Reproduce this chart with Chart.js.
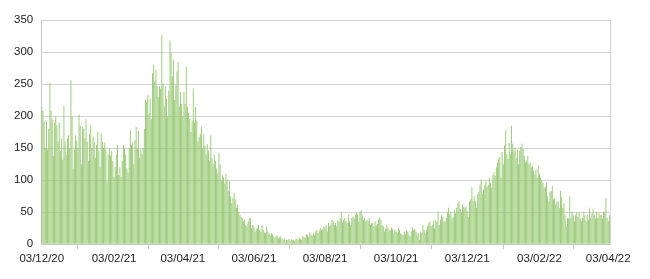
<!DOCTYPE html>
<html>
<head>
<meta charset="utf-8">
<script src="https://cdn.jsdelivr.net/npm/chart.js@4.4.1/dist/chart.umd.min.js"></script>
<style>
  html, body { margin: 0; padding: 0; background: #fff; }
  #wrap { width: 650px; height: 279px; }
</style>
</head>
<body>
<div id="wrap"><canvas id="casesChart"></canvas></div>
<script>
// daily values, one per day from 03/12/20
const decJan = [215,208,192,150,192,148,180,252,208,195, 138,190,200,186,160,190,145,165,132,216,
  160,140,165,170,150,256,200,118,148,170, 162,150,202,185,125,183,180,165,195,160,
  130,172,185,150,168,160,135,155,175,145, 120,173,160,150,158,148,98,140,150,138,
  145,130,105,120,140,155,108,120,105,130, 155,150,140,118,112,150,178,155,158,125, 162];
const springWave = [183,150,177,135,148,140,150,180,225,222, 233,205,227,195,267,280,254,272,246,230,
  246,243,326,251,215,246,227,200,240,318, 300,262,288,225,248,270,285,215,238,219,
  200,238,219,277,214,205,196,175,193,243, 190,214,193,160,167,172,183,150,172,154,
  140,156,146,130,170,135,125,140,130,118, 110,143,125,100,109,104,95,110,101,83, 99,75];
const summerLow = [64,72,80,70,57,62,51,46,43,41, 36,38,30,28,36,40,41,25,30,28,
  20,24,25,30,22,20,30,22,18,17, 28,20,17,14,17,15,12,10,14,12,
  9,11,12,8,7,9,4,7,6,8, 5,8,6,7,5,8,9,7,10,8,
  7,13,11,10,16,14,12,19,15,13, 17,14,20,22,17,21,25,22,24,28, 26];
const autumn = [30,20,33,28,30,38,36,30,33,28, 38,35,41,50,34,38,41,36,33,46,
  36,30,41,43,40,46,49,47,36,51, 53,45,38,41,35,38,36,41,30,33,
  33,28,36,29,32,38,41,38,30,28, 20,24,29,25,21,22,26,24,18,22,
  20,18,25,22,17,15,14,20,16,22, 20,15,12,20,26,22,24,20,15,17, 7];
const winterWave = [20,17,30,22,17,22,28,33,36,28, 30,37,25,38,35,51,30,38,46,43,
  35,36,41,50,57,46,51,40,43,54, 48,57,64,67,55,49,62,58,57,59,
  52,43,67,70,89,67,75,68,57,78, 82,93,101,78,85,93,99,90,93,104,
  95,88,108,112,107,120,128,133,136,104, 144,125,154,178,140,133,158,141,185,157, 145,151];
const spring22 = [135,148,125,146,152,157,149,138,128,130, 138,125,128,120,122,115,109,117,104,122,
  109,104,100,96,88,90,96,75,67,82, 83,91,70,72,62,66,67,57,83,73,
  57,64,45,28,41,40,75,41,51,45, 36,46,50,43,49,40,36,41,51,45,
  36,46,38,57,41,48,54,46,40,51, 41,49,45,46,40,51,49,72,41,36, 45];

const cases = [].concat(decJan, springWave, summerLow, autumn, winterWave, spring22);

const tickLabels = ['03/12/20','03/02/21','03/04/21','03/06/21','03/08/21','03/10/21','03/12/21','03/02/22','03/04/22'];
const yTicks = [0, 50, 100, 150, 200, 250, 300, 350];

// one category per day
const days = [];
for (let i = 0; i < cases.length; i++) {
    const d = new Date(Date.UTC(2020, 11, 3 + i));
    const dd = String(d.getUTCDate()).padStart(2, '0');
    const mm = String(d.getUTCMonth() + 1).padStart(2, '0');
    const yy = String(d.getUTCFullYear()).slice(2);
    days.push(dd + '/' + mm + '/' + yy);
}

const ctx = document.getElementById('casesChart').getContext('2d');
const myChart = new Chart(ctx, {
    type: 'bar',
    data: {
        labels: days,
        datasets: [{
            data: cases,
            backgroundColor: '#98c974',
            borderWidth: 0,
            barPercentage: 1,
            categoryPercentage: 0.8
        }]
    },
    options: {
        responsive: true,
        maintainAspectRatio: false,
        animation: false,
        layout: { padding: { left: 6, right: 32, top: 20, bottom: 10 } },
        plugins: { legend: { display: false }, tooltip: { enabled: false } },
        scales: {
            x: {
                grid: { drawOnChartArea: false, tickLength: 5, color: '#c8c8c8' },
                border: { display: true, color: '#c8c8c8' },
                ticks: {
                    autoSkip: false,
                    maxRotation: 0,
                    padding: 3,
                    color: '#222',
                    font: { family: 'Liberation Sans, Arial, sans-serif', size: 11.5 },
                    callback: function (value) {
                        const lbl = this.getLabelForValue(value);
                        return tickLabels.includes(lbl) ? lbl : null;
                    }
                }
            },
            y: {
                min: 0,
                max: 350,
                afterBuildTicks: function (axis) {
                    axis.ticks = yTicks.map(v => ({ value: v }));
                },
                grid: { color: '#d4d4d4', drawTicks: false },
                border: { display: true, color: '#c8c8c8' },
                ticks: {
                    padding: 8,
                    color: '#222',
                    font: { family: 'Liberation Sans, Arial, sans-serif', size: 11.5 }
                }
            },
            y2: {
                position: 'right',
                min: 0,
                max: 350,
                grid: { display: false },
                border: { display: true, color: '#d4d4d4' },
                ticks: { display: false }
            }
        }
    }
});
</script>
</body>
</html>
